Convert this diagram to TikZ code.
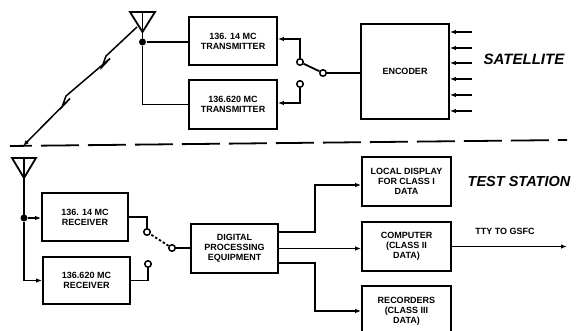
\documentclass[tikz,border=0pt]{standalone}
\usepackage{fontspec}
\setmainfont{Liberation Sans}
\usetikzlibrary{arrows.meta}
\begin{document}
\begin{tikzpicture}[x=1pt,y=-1pt,line width=1.8pt,
  box/.style={draw,rectangle,inner sep=0pt,align=center,font=\bfseries\fontsize{9}{10}\selectfont},
  title/.style={font=\bfseries\itshape\fontsize{14.5}{16}\selectfont},
  lbl/.style={font=\bfseries\fontsize{9}{10}\selectfont},
  arr/.style={-{Latex[length=6pt,width=4.5pt]}},
  jdot/.style={circle,fill,inner sep=0pt,minimum size=7pt},
  sw/.style={circle,draw,fill=white,inner sep=0pt,minimum size=6.5pt,line width=1.5pt}]
\useasboundingbox[fill=white] (0,0) rectangle (579,331);
\clip (0,0) rectangle (579,331);
% ---------------- satellite ----------------
\node[box,minimum width=88pt,minimum height=48pt] (tx1) at (233,41) {136. 14 MC\\TRANSMITTER};
\node[box,minimum width=88pt,minimum height=49pt] (tx2) at (233,104.5) {136.620 MC\\TRANSMITTER};
\node[box,minimum width=88pt,minimum height=95pt] (enc) at (405,71.5) {ENCODER};
\node[title,font=\bfseries\itshape\fontsize{15}{16}\selectfont] (sat) at (524,59) {SATELLITE};
% antenna
\draw (130,12) -- (155,12) -- (142.5,32) -- cycle;
\draw (142.5,12) -- (142.5,42);
\node[jdot] (j1) at (142.5,42) {};
\draw (j1) -- (j1 -| tx1.west);
\draw (j1) |- (tx2.west);
% switch
\node[sw] (c1) at (300,62) {};
\node[sw] (c2) at (300,84) {};
\node[sw] (p1) at (323,73) {};
\draw[arr] (c1) |- ([yshift=2pt]tx1.east);
\draw[arr] (c2) |- ([yshift=1.5pt]tx2.east);
\draw (p1) -- (c1);
\draw (p1) -- (p1 -| enc.west);
% encoder inputs
\foreach \y [count=\i] in {32,48,63,79,95,111}{
  \coordinate (in\i) at (472,\y);
  \draw[arr] (in\i) -- (in\i -| enc.east);
}
% lightning link
\coordinate (ls) at (137,27);
\coordinate (le) at (23,146);
\draw[arr,line width=1.5pt,line join=miter] (ls) -- (106,56) -- (102,67) -- (110,58.5) -- (66,96) -- (62,107) -- (70,98.5) -- (le);
% separator
\coordinate (s1) at (10,146);
\coordinate (s2) at (567,140);
\draw[line width=1.8pt,dash pattern=on 38pt off 9pt,dash phase=16pt] (s1) -- (s2);
% ---------------- test station ----------------
\node[box,minimum width=86pt,minimum height=48pt] (rx1) at (85,217) {136. 14 MC\\RECEIVER};
\node[box,minimum width=87pt,minimum height=47pt] (rx2) at (86.5,280.5) {136.620 MC\\RECEIVER};
\node[box,minimum width=87pt,minimum height=49pt] (dpe) at (234.5,248.5) {DIGITAL\\PROCESSING\\EQUIPMENT};
\node[box,minimum width=89pt,minimum height=49pt] (disp) at (406.5,181.5) {LOCAL DISPLAY\\FOR CLASS I\\DATA};
\node[box,minimum width=89pt,minimum height=49pt] (comp) at (406.5,246.5) {COMPUTER\\(CLASS II\\DATA)};
\node[box,minimum width=89pt,minimum height=50pt] (rec) at (406.5,311) {RECORDERS\\(CLASS III\\DATA)};
\node[title] (ts) at (519,182) {TEST STATION};
% antenna
\draw (12,158) -- (36,158) -- (24,178) -- cycle;
\draw (24,158) -- (24,218);
\node[jdot] (j2) at (24,218) {};
\draw[arr] (j2) -- (j2 -| rx1.west);
\draw[arr] (j2) |- (rx2.west);
% switch
\node[sw] (c3) at (147,232) {};
\node[sw] (c4) at (148,264) {};
\node[sw] (p2) at (172,248) {};
\draw (rx1.east) -| (c3);
\draw (rx2.east) -| (c4);
\draw[dash pattern=on 2.5pt off 2pt] (p2) -- (c3);
\draw (p2) -- (p2 -| dpe.west);
% outputs
\coordinate (o1) at (315,232);
\coordinate (o3) at (315,263);
\draw[arr] (dpe.east |- o1) -- (o1) |- ([yshift=-3.5pt]disp.west);
\draw[arr] (dpe.east) -- (dpe.east -| comp.west);
\draw[arr] (dpe.east |- o3) -- (o3) |- (rec.west);
\coordinate (tty) at (567,246.5);
\draw[arr] (comp.east) -- (tty);
\node[lbl] (ttyl) at (505,231) {TTY TO GSFC};
\end{tikzpicture}
\end{document}
